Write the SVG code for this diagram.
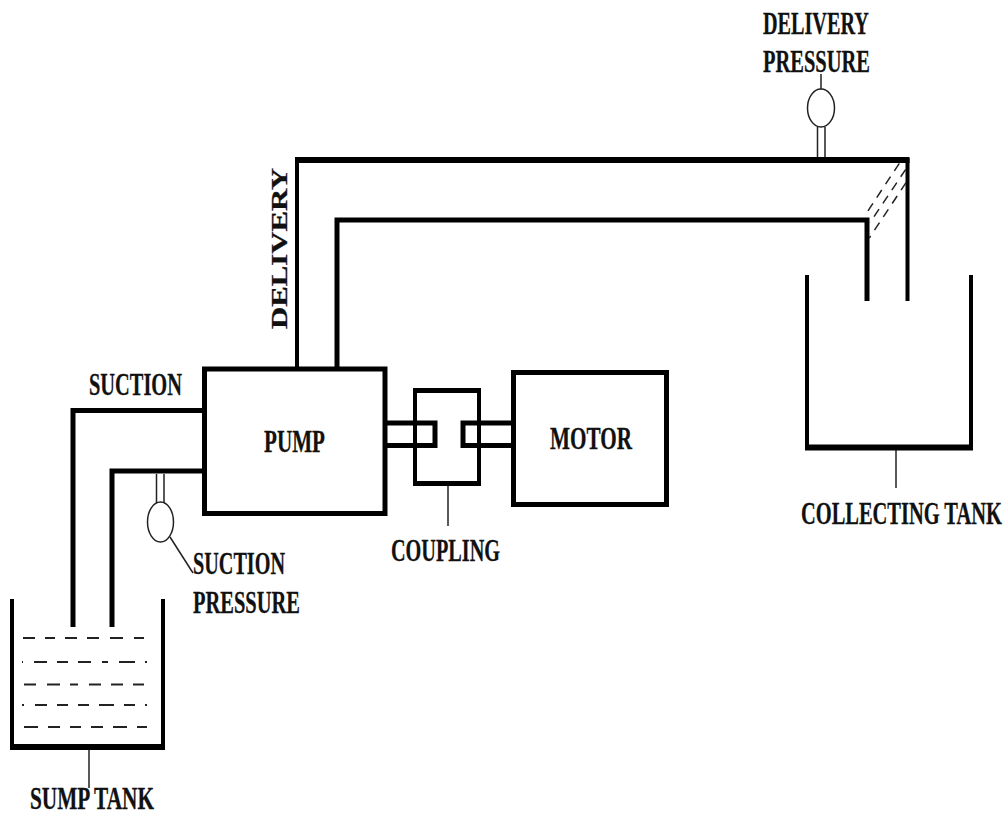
<svg xmlns="http://www.w3.org/2000/svg" width="1008" height="816" viewBox="0 0 1008 816">
<style>
.p{fill:none;stroke:#000;stroke-linecap:butt;stroke-linejoin:miter}
.t5{stroke-width:5}
.thin{fill:none;stroke:#222;stroke-width:1.5}
.d{fill:none;stroke:#222;stroke-width:2}
.h{fill:none;stroke:#222;stroke-width:1.5;stroke-dasharray:9 7}
text{font-family:"Liberation Serif","Times New Roman",serif;font-weight:bold;font-size:32px;fill:#111;stroke:#111;stroke-width:.3}
</style>
<rect width="1008" height="816" fill="#fff"/>
<g id="connectors">
<path class="p" d="M297 367V160H907.500V301" stroke-width="4"/>
<path class="p" d="M295 160H909.500" stroke-width="6"/>
<path class="p t5" d="M337 367V220H867V301"/>
<path class="p t5" d="M204 410.500H73V627"/>
<path class="p t5" d="M204 471H112V627"/>
<path class="h" d="M899.300 163.300L865.300 215"/>
<path class="h" d="M905.700 169.300L870 222.700"/>
<path class="h" d="M906 182.700L869.300 238"/>
<path class="thin" d="M821 74V89"/>
<path class="thin" d="M170 537L193 573"/>
<path class="thin" d="M448 486V526"/>
<path class="thin" d="M896 450V488"/>
<path class="thin" d="M89 750V788"/>
</g>
<g id="pump"><rect class="p t5" x="204.500" y="369" width="180.500" height="144.500"/><text transform="translate(264 452) scale(.64 1)" textLength="95.300" lengthAdjust="spacingAndGlyphs">PUMP</text></g>
<g id="motor"><rect class="p t5" x="513.500" y="372.500" width="153" height="132"/><text transform="translate(550 449) scale(.64 1)" textLength="128" lengthAdjust="spacingAndGlyphs">MOTOR</text></g>
<g id="coupling">
<rect class="p" stroke-width="4" x="415" y="390" width="64" height="94"/>
<path class="p t5" d="M413 390.500H481M413 483.500H481"/>
<path class="p t5" d="M386 423H435V445.500H386"/>
<path class="p t5" d="M513 423H463V445.500H513"/>
<text transform="translate(391 560.500) scale(.62 1)" textLength="175.800" lengthAdjust="spacingAndGlyphs">COUPLING</text>
</g>
<g id="collecting-tank"><path class="p" stroke-width="4" d="M807 275V447.500H971V275"/><path class="p" stroke-width="6" d="M805 447.500H973"/><text transform="translate(801 524) scale(.62 1)" textLength="324" lengthAdjust="spacingAndGlyphs">COLLECTING TANK</text></g>
<g id="sump-tank">
<path class="p" stroke-width="4" d="M12 599V747H163V599"/><path class="p" stroke-width="6" d="M10 747H165"/>
<path class="d" d="M23 638H35M45 638H55M65 638H77M87 638H99M110 638H123M134 638H144"/>
<path class="d" d="M22 662H23M34 662H47M57 662H68M78 662H91M102 662H108M119 662H135M145 662H147"/>
<path class="d" d="M24 684.500H36M47 684.500H60M70 684.500H78M89 684.500H101M111 684.500H123M133 684.500H144"/>
<path class="d" d="M22 705H24M35 705H47M57 705H68M78 705H89M99 705H114M124 705H135M145 705H147"/>
<path class="d" d="M24 727H38M48 727H60M70 727H81M91 727H103M113 727H127M137 727H147"/>
<text transform="translate(30 809) scale(.69 1.05)" textLength="179.700" lengthAdjust="spacingAndGlyphs" style="font-size:30px">SUMP TANK</text>
</g>
<g id="delivery-gauge"><path class="thin" d="M817.500 127V157M825 127V157"/><ellipse class="thin" cx="821" cy="108" rx="13.500" ry="19"/><text transform="translate(763 34) scale(.63 1)" textLength="168" lengthAdjust="spacingAndGlyphs">DELIVERY</text><text transform="translate(763 72) scale(.64 1)" textLength="167" lengthAdjust="spacingAndGlyphs">PRESSURE</text></g>
<g id="suction-gauge"><path class="thin" d="M156.500 474V503M164 474V503"/><ellipse class="thin" cx="160.500" cy="522" rx="13" ry="20"/><text transform="translate(193 574) scale(.63 1)" textLength="146" lengthAdjust="spacingAndGlyphs">SUCTION</text><text transform="translate(193 613) scale(.64 1)" textLength="167" lengthAdjust="spacingAndGlyphs">PRESSURE</text></g>
<g id="labels"><text transform="translate(89 395) scale(.63 1)" textLength="147.600" lengthAdjust="spacingAndGlyphs">SUCTION</text><text transform="translate(287 329) rotate(-90) scale(1.28 1)" textLength="126" lengthAdjust="spacingAndGlyphs" style="font-size:24px">DELIVERY</text></g>
</svg>
